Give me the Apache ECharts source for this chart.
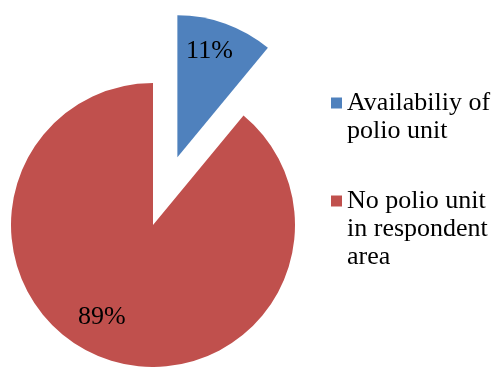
<!DOCTYPE html>
<html>
<head>
<meta charset="utf-8">
<script src="https://cdn.jsdelivr.net/npm/echarts@6/dist/echarts.min.js"></script>
<style>
  html, body { margin: 0; padding: 0; background: #fff; }
  #chart { width: 496px; height: 367px; }
</style>
</head>
<body>
<div id="chart"></div>
<script>
// Share of respondents by availability of a polio unit in their area
const categories = ['Availabiliy of\npolio unit', 'No polio unit\nin respondent\narea'];
const values = [11, 89];
const colors = ['#4F81BD', '#C0504D'];

const chart = echarts.init(document.getElementById('chart'), null, { renderer: 'canvas' });

const serif = 'Liberation Serif';

// Pad each legend label with blank lines above so the square sits beside the first line
function legendText(name) {
  const lines = name.split('\n');
  return '\n'.repeat(lines.length - 1) + name;
}

function legendFor(name, top) {
  return {
    orient: 'vertical',
    left: 326,
    top: top,
    itemWidth: 11,
    itemHeight: 11,
    icon: 'rect',
    data: [name],
    formatter: legendText,
    textStyle: {
      fontFamily: serif,
      fontSize: 26,
      lineHeight: 28,
      color: '#000'
    }
  };
}

chart.setOption({
  animation: false,
  textStyle: { fontFamily: serif },
  legend: [legendFor(categories[0], 56), legendFor(categories[1], 126)],
  series: [{
    type: 'pie',
    center: [153, 225],
    radius: [0, 142],
    startAngle: 90,
    clockwise: true,
    selectedMode: 'single',
    selectedOffset: 72,
    silent: true,
    label: {
      show: true,
      position: 'inside',
      formatter: '{c}%',
      fontFamily: serif,
      fontSize: 26,
      color: '#000'
    },
    labelLayout: function (p) {
      return p.dataIndex === 0 ? { dx: 7, dy: -36 } : { dx: -26, dy: 23 };
    },
    itemStyle: { borderWidth: 0 },
    emphasis: { disabled: true },
    data: categories.map((name, i) => ({
      name: name,
      value: values[i],
      selected: i === 0,
      itemStyle: { color: colors[i] }
    }))
  }]
});
</script>
</body>
</html>
